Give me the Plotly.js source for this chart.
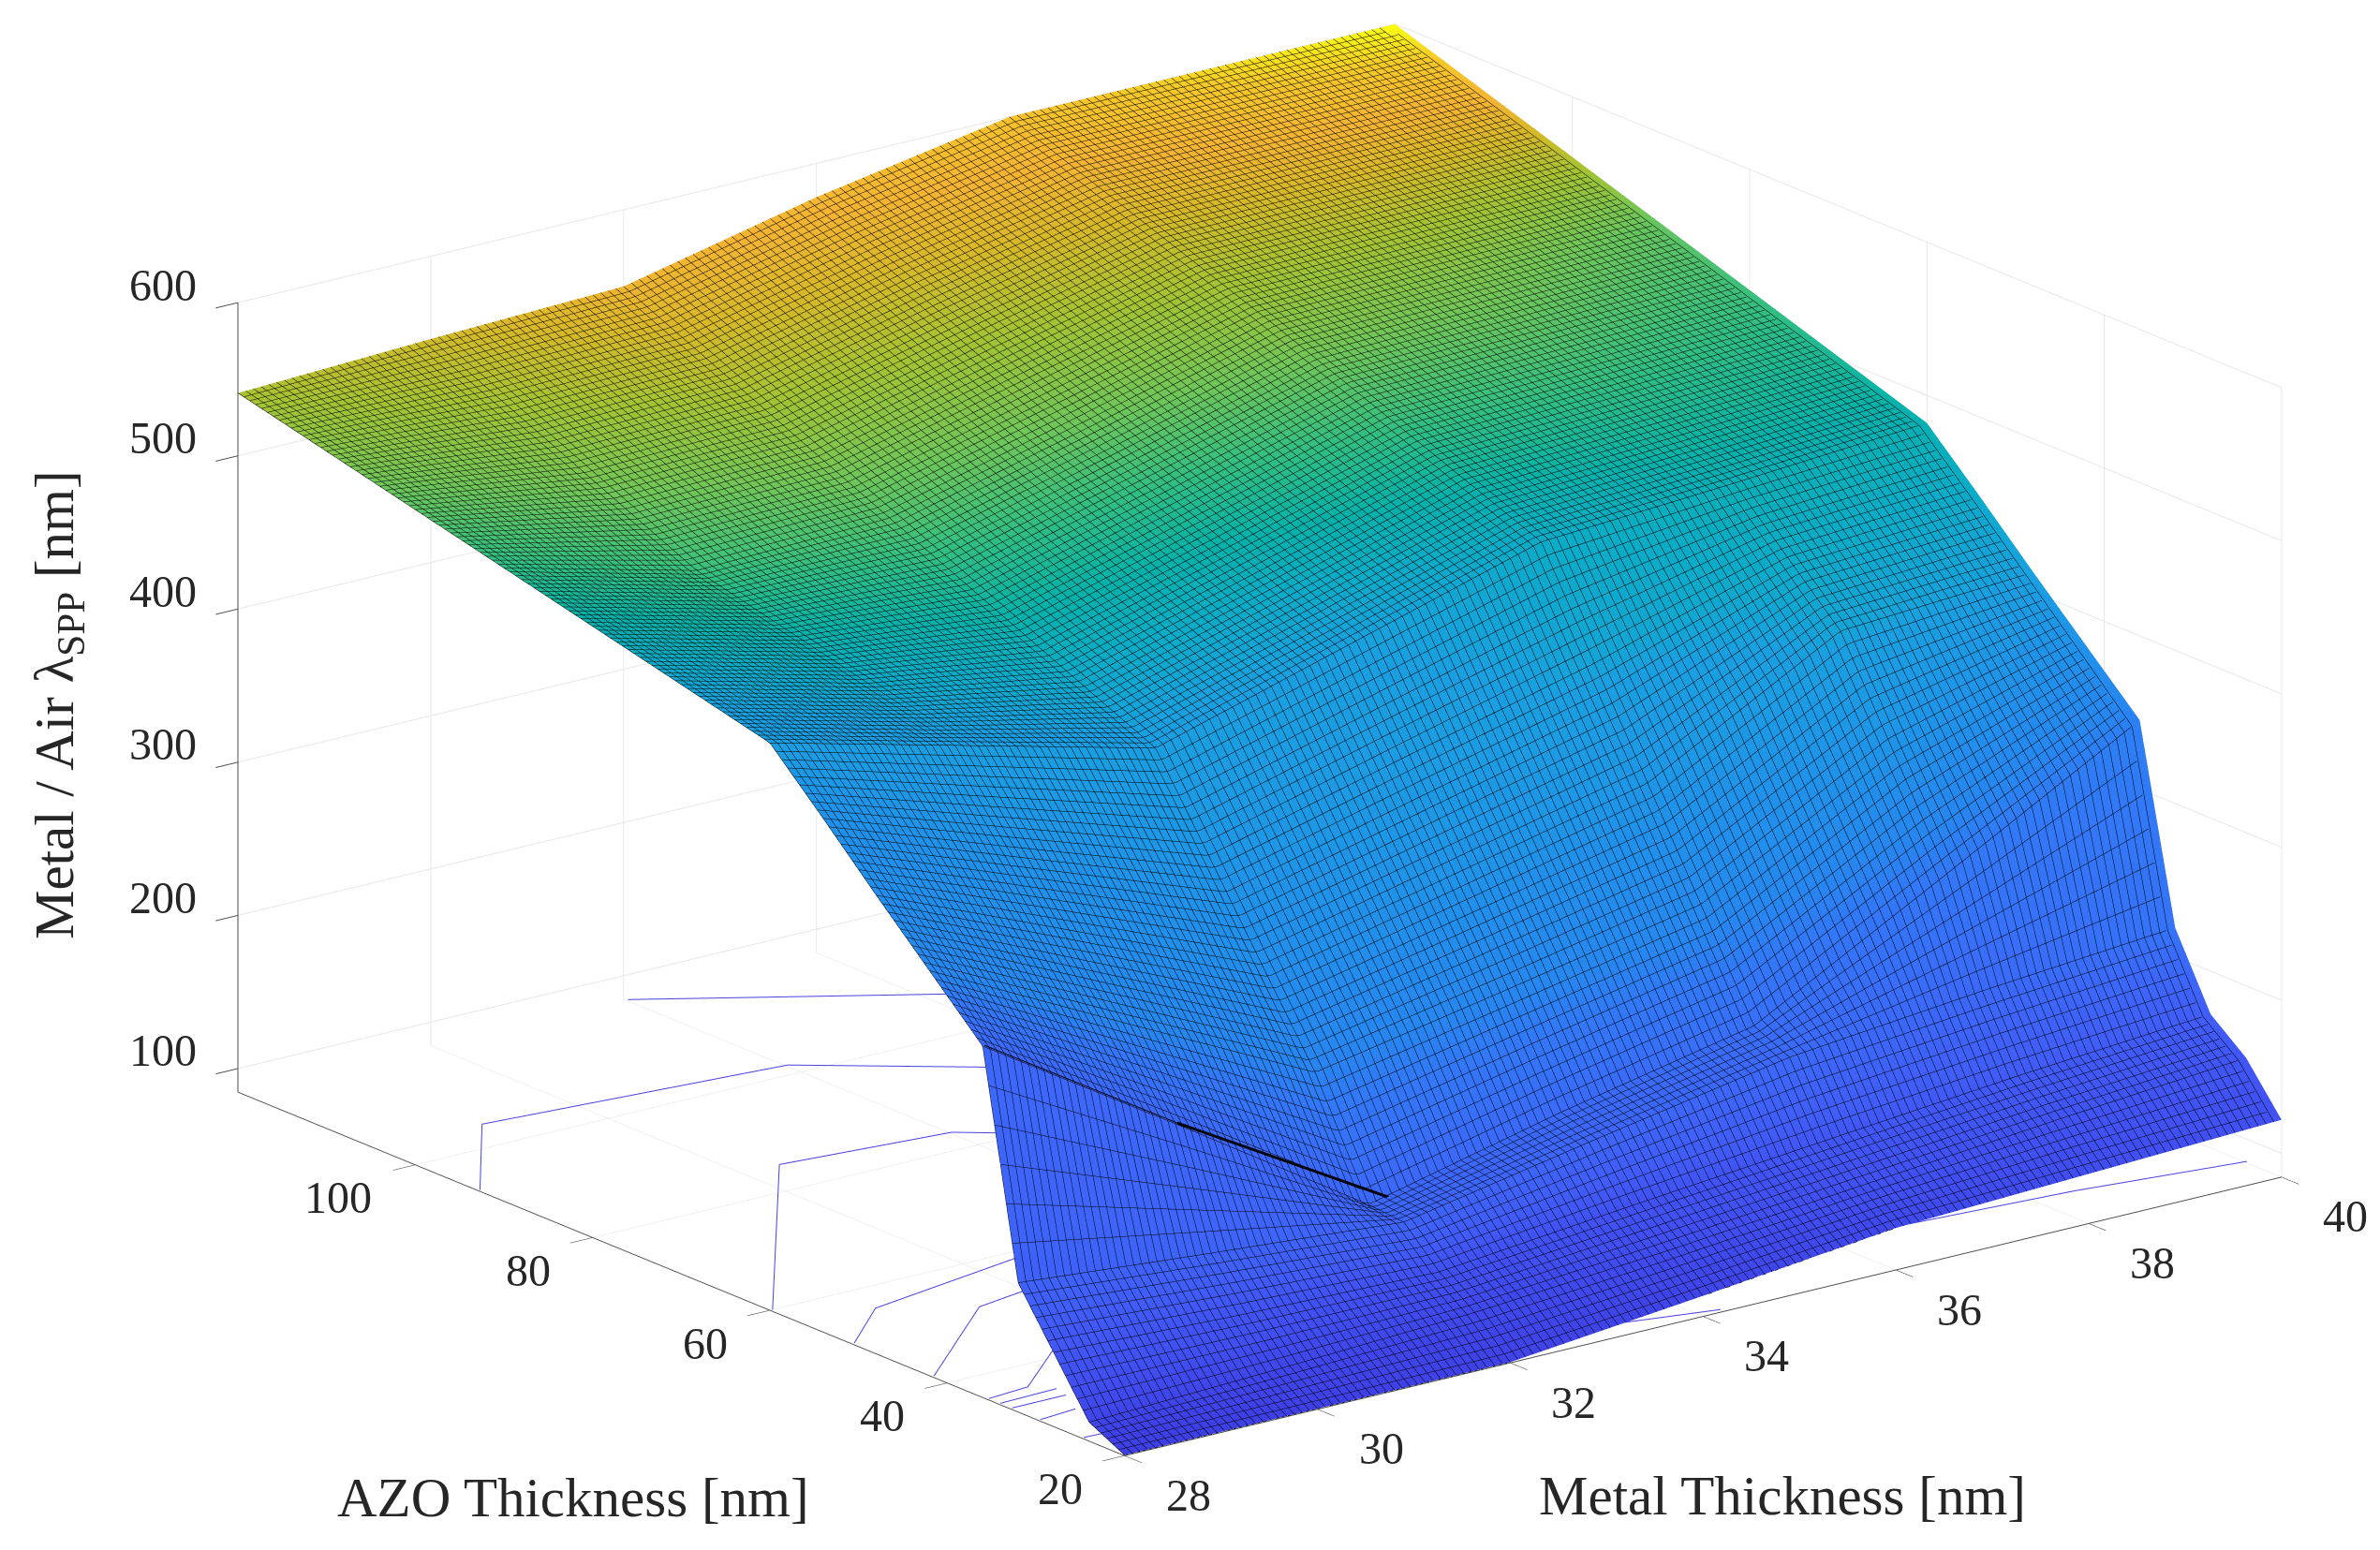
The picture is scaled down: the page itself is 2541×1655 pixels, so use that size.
<!DOCTYPE html>
<html><head><meta charset="utf-8">
<script src="https://cdn.plot.ly/plotly-3.0.1.min.js"></script>
<style>html,body{margin:0;padding:0;background:#fff}#g{width:2541px;height:1655px}</style>
</head><body><div id="g"></div>
<script>
const metal=[28,30,32,34,36,38,40];
const azo=[20,24,28,32,36,42,48,54,60,90,120];
const lambda=[
[85,85,85,98,112,117,122],
[97,102,108,118,130,142,153],
[133,128,125,138,150,162,172],
[169,158,148,172,195,208,219],
[314,233,150,180,206,275,345],
[349,285,222,246,271,340,379],
[384,331,278,307,336,405,413],
[420,377,335,368,400,439,448],
[455,423,391,428,465,473,482],
[498,466,470,502,535,538,541],
[541,546,550,578,600,600,600]];
// colour index of each grid point
const lambdaColor=[
[85,90,95,100,110,120,130],
[100,105,110,120,130,140,150],
[150,140,130,135,150,165,175],
[200,205,210,220,235,235,280],
[225,225,225,240,260,300,320],
[340,340,330,345,360,410,400],
[380,385,385,410,420,460,455],
[400,415,420,440,460,470,468],
[445,450,450,455,470,478,480],
[498,503,510,518,528,525,515],
[541,552,566,572,580,590,600]];
const floorZ=84.6, topZ=600;
const metalTicks=[28,30,32,34,36,38,40];
const azoTicks=[20,40,60,80,100];
const lambdaTicks=[100,200,300,400,500,600];
const contours=[
[[32,34.2],[119.5,107]],
[[28,29.06,32,33.3],[92.7,104,101.5,92.6]],
[[28,30.36,32,32.3],[59.7,84.6,83,80.9]],
[[28,28.7,30.4],[50.5,55.7,58.5]],
[[28,29.4,29.94],[41.5,51.6,52.5]],
[[28,28.44,29.23],[35.3,35.7,41.3]],
[[28,28.6],[34,34.2]],
[[28,28.56],[32.7,32.7]],
[[28,28.4],[29.5,29.9]],
[[28,28.2],[24.6,24.5]],
[[33.26,34.2],[22.2,20.2]],
[[36.76,38.4,40],[27.2,26,23.9]]];
// dark fold of the surface along AZO = 36: [metal], [azo], [lambda], stroke
const foldThin=[[28,30],[35.8,35.8],[315,234]];
const foldThick=[[30,32.2],[35.8,35.8],[234,152]];
const colorZ=[84.6,130,170,230,300,340,400,455,470,485,500,520,540,555,570,585,600];
const colorRGB=['rgb(62,62,228)','rgb(65,80,242)','rgb(65,92,248)','rgb(60,104,250)','rgb(50,120,248)','rgb(38,135,240)','rgb(32,145,235)','rgb(25,160,225)','rgb(10,172,200)','rgb(5,178,170)','rgb(50,190,130)','rgb(110,198,90)','rgb(165,195,50)','rgb(215,185,40)','rgb(245,180,50)','rgb(245,200,40)','rgb(250,250,20)'];
const colorscale=colorZ.map((z,i)=>[(z-floorZ)/(topZ-floorZ),colorRGB[i]]);
const tickFont={family:'"Liberation Serif",serif',size:48,color:'#262626'};
const titleFont={family:'"Liberation Serif",serif',size:59,color:'#262626'};
const axisBase={showbackground:false,showspikes:false,zeroline:false,showline:true,linecolor:'#4d4d4d',linewidth:2,
  gridcolor:'#e6e6e6',gridwidth:2,ticks:'outside',ticklen:30,tickcolor:'#4d4d4d',tickwidth:2,showticklabels:false,title:{text:''}};
const traces=[{type:'surface',x:metal,y:azo,z:lambda,surfacecolor:lambdaColor,cmin:floorZ,cmax:topZ,colorscale:colorscale,showscale:false,hoverinfo:'skip',
  lighting:{ambient:1,diffuse:0,specular:0,roughness:1,fresnel:0},
  contours:{x:{show:true,start:28,end:40,size:0.08,color:'#000000',width:2,highlight:false},
            y:{show:true,start:20,end:120,size:0.6667,color:'#000000',width:2,highlight:false},
            z:{show:false,highlight:false}}}];
contours.forEach(c=>traces.push({type:'scatter3d',mode:'lines',x:c[0],y:c[1],z:c[0].map(()=>floorZ+1),
  line:{color:'#4a40e0',width:2},hoverinfo:'skip',showlegend:false}));
[[foldThin,2],[foldThick,6]].forEach(f=>traces.push({type:'scatter3d',mode:'lines',x:f[0][0],y:f[0][1],z:f[0][2],
  line:{color:'#06060f',width:f[1]},hoverinfo:'skip',showlegend:false}));
const tickLabel=(x,y,z,t,dx,dy)=>({x:x,y:y,z:z,text:String(t),showarrow:false,font:tickFont,xanchor:'center',yanchor:'middle',xshift:dx,yshift:dy});
const sceneAnn=[].concat(
  metalTicks.map(v=>tickLabel(v,20,floorZ,v,68,-42)),
  azoTicks.map(v=>tickLabel(28,v,floorZ,v,v===100?-82:-69,-35)),
  lambdaTicks.map(v=>tickLabel(28,120,v,v,-80,19)));
const layout={width:2541,height:1655,margin:{l:0,r:0,t:0,b:0},paper_bgcolor:'#fff',showlegend:false,
 scene:{domain:{x:[0.05867,1],y:[0.0453,1]},aspectmode:'manual',aspectratio:{x:1.97,y:1.97,z:1.124},
  camera:{projection:{type:'orthographic'},center:{x:0,y:0,z:0},up:{x:0,y:0,z:1},eye:{x:-0.577*4,y:-0.753*4,z:0.314*4}},
  annotations:sceneAnn,
  xaxis:Object.assign({},axisBase,{range:[28,40],tickvals:metalTicks}),
  yaxis:Object.assign({},axisBase,{range:[20,120],tickvals:azoTicks}),
  zaxis:Object.assign({},axisBase,{range:[floorZ,topZ],tickvals:lambdaTicks})},
 annotations:[
  {xref:'paper',yref:'paper',x:612/2541,y:1-1599/1655,xanchor:'center',yanchor:'middle',text:'AZO Thickness [nm]',showarrow:false,font:titleFont},
  {xref:'paper',yref:'paper',x:1903/2541,y:1-1597/1655,xanchor:'center',yanchor:'middle',text:'Metal Thickness [nm]',showarrow:false,font:titleFont},
  {xref:'paper',yref:'paper',x:62/2541,y:1-753/1655,xanchor:'center',yanchor:'middle',text:'Metal / Air λ<sub>SPP</sub> [nm]',textangle:-90,showarrow:false,font:titleFont}]};
Plotly.newPlot('g',traces,layout,{displayModeBar:false});
</script></body></html>
